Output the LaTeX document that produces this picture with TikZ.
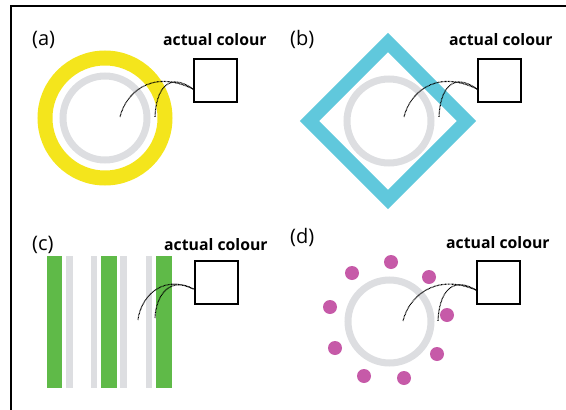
\documentclass[tikz,border=0pt]{standalone}
\usepackage{fontspec}
\setmainfont{Open Sans}
\usetikzlibrary{calc}
\definecolor{yellowc}{RGB}{244,229,28}
\definecolor{cyanc}{RGB}{96,200,220}
\definecolor{greenc}{RGB}{95,186,72}
\definecolor{magc}{RGB}{198,90,168}
\definecolor{ringgray}{RGB}{221,222,225}
\begin{document}
\begin{tikzpicture}[x=1pt,y=-1pt,
  swatch/.style={draw, line width=2pt, minimum width=43pt, minimum height=43pt, inner sep=0pt},
  lbl/.style={font=\fontsize{20}{20}\selectfont, anchor=base west, inner sep=0pt},
  ttl/.style={font=\bfseries\fontsize{15.8}{16}\selectfont, anchor=base west, inner sep=0pt},
  link/.style={line width=1.1pt, dash pattern=on 0.8pt off 0.6pt},
  grayring/.style={draw=ringgray, line width=7pt},
  grayband/.style={fill=ringgray},
  greenband/.style={fill=greenc},
  dotm/.style={fill=magc}]
\useasboundingbox (0,0) rectangle (566,410);
\draw[line width=2pt] (10.5,410) -- (10.5,6) -- (566,6);

% ---------- (a)
\node[lbl] (la) at (32,45) {(a)};
\node[ttl] (ta) at (163,45) {actual colour};
\node[swatch] (sqa) at (215.5,80) {};
\draw[yellowc, line width=15pt] (105,118) circle[radius=60];
\draw[grayring] (105,118) circle[radius=42];
\coordinate (sa) at ($(sqa.west)+(0,9)$);
\coordinate (a1) at (120,117);
\coordinate (a2) at (155,117);
\draw[link] (sa) .. controls (150,68) and (125,95) .. (a1);
\draw[link] (sa) .. controls (168,71) and (156,90) .. (a2);

% ---------- (b)
\node[lbl] (lb) at (290,45) {(b)};
\node[ttl] (tb) at (449,45) {actual colour};
\node[swatch] (sqb) at (499.5,80) {};
\draw[cyanc, line width=13.5pt, line join=miter] (388,42.5) -- (466.5,121) -- (388,199.5) -- (309.5,121) -- cycle;
\draw[grayring] (389,121) circle[radius=42];
\coordinate (sb) at ($(sqb.west)+(0,9)$);
\coordinate (b1) at (404,117);
\coordinate (b2) at (439,117);
\draw[link] (sb) .. controls (434,68) and (409,95) .. (b1);
\draw[link] (sb) .. controls (452,71) and (440,90) .. (b2);

% ---------- (c)
\node[lbl] (lc) at (32,250) {(c)};
\node[ttl] (tc) at (164,250) {actual colour};
\node[swatch] (sqc) at (216,282) {};
\fill[greenband] (47,256) rectangle (62,388);
\fill[grayband] (66,256) rectangle (73,388);
\fill[grayband] (91,256) rectangle (97,388);
\fill[greenband] (101,256) rectangle (117,388);
\fill[grayband] (120,256) rectangle (127,388);
\fill[grayband] (146,256) rectangle (152,388);
\fill[greenband] (156,256) rectangle (172,388);
\coordinate (sc) at ($(sqc.west)+(0,7)$);
\coordinate (c1) at (138,320);
\coordinate (c2) at (155,318);
\draw[link] (sc) .. controls (160,273) and (140,300) .. (c1);
\draw[link] (sc) .. controls (170,276) and (156,295) .. (c2);

% ---------- (d)
\node[lbl] (ld) at (290,243) {(d)};
\node[ttl] (td) at (446,248) {actual colour};
\node[swatch] (sqd) at (498.5,282.5) {};
\draw[grayring] (389.5,321.5) circle[radius=41.5];
\foreach \px/\py [count=\i] in {391/262, 352/273, 429/277, 330/307, 447/315, 335/348, 437/354, 364/376, 404/378}
  \fill[dotm] (\px,\py) circle[radius=7];
\coordinate (sd) at ($(sqd.west)+(0,7.5)$);
\coordinate (d1) at (403,321);
\coordinate (d2) at (438,321);
\draw[link] (sd) .. controls (433,272) and (408,299) .. (d1);
\draw[link] (sd) .. controls (451,275) and (439,294) .. (d2);
\end{tikzpicture}
\end{document}
